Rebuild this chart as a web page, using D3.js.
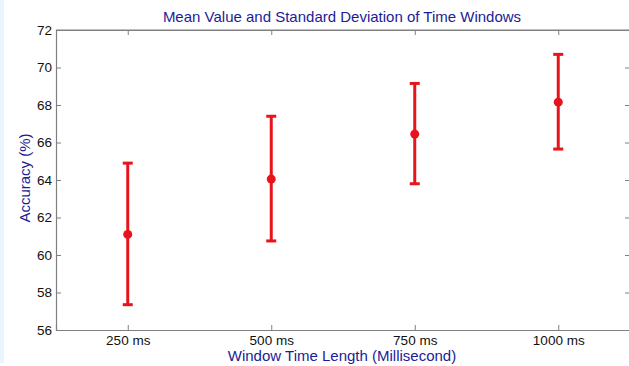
<!DOCTYPE html>
<html>
<head>
<meta charset="utf-8">
<script src="https://cdn.jsdelivr.net/npm/d3@7"></script>
<style>
  html, body { margin: 0; padding: 0; background: #ffffff; }
  svg { display: block; }
</style>
</head>
<body>
<svg id="chart" width="629" height="366"></svg>
<script>
const categories = ["250 ms", "500 ms", "750 ms", "1000 ms"];
const meanValues = [61.1, 64.05, 66.45, 68.15];
const upperValues = [64.9, 67.4, 69.15, 70.7];
const lowerValues = [57.35, 60.75, 63.8, 65.65];
const yTicks = [56, 58, 60, 62, 64, 66, 68, 70, 72];

(function () {
const plotLeft = 56, plotRight = 630, plotTop = 30, plotBottom = 330;
const svg = d3.select("#chart");

// light blue strip at the left edge
svg.append("rect").attr("x", 0).attr("y", 0).attr("width", 4).attr("height", 363).attr("fill", "#eaf6fd");

const x = d3.scaleLinear().domain([0.5, categories.length + 0.5]).range([plotLeft, plotRight]);
const y = d3.scaleLinear().domain([56, 72]).range([plotBottom, plotTop]);

const axisColor = "#808080";
const font = "'Liberation Sans', Arial, sans-serif";

// box lines
const g = svg.append("g");
g.append("line").attr("x1", plotLeft).attr("x2", plotRight).attr("y1", y(72)).attr("y2", y(72)).attr("stroke", axisColor).attr("stroke-width", 1.2);
g.append("line").attr("x1", plotRight).attr("x2", plotRight).attr("y1", plotTop).attr("y2", plotBottom).attr("stroke", axisColor).attr("stroke-width", 1.2);

// left axis
const yAxis = d3.axisLeft(y).tickValues(yTicks).tickSize(-5).tickPadding(4).tickFormat(d3.format("d"));
const ya = svg.append("g").attr("transform", `translate(${plotLeft},0)`).call(yAxis);
ya.select(".domain").attr("stroke", axisColor).attr("stroke-width", 1.2);
ya.selectAll(".tick line").attr("stroke", axisColor);
ya.selectAll("text").attr("font-family", font).attr("font-size", 13.5).attr("fill", "#111");

// right axis ticks
const yr = svg.append("g").attr("transform", `translate(${plotRight},0)`).call(d3.axisRight(y).tickValues(yTicks).tickSize(-5).tickFormat(""));
yr.select(".domain").attr("stroke", axisColor);
yr.selectAll(".tick line").attr("stroke", axisColor);

// bottom axis
const idx = categories.map((c, i) => i + 1);
const xAxis = d3.axisBottom(x).tickValues(idx).tickSize(-5).tickPadding(5).tickFormat(d => categories[d - 1]);
const xa = svg.append("g").attr("transform", `translate(0,${plotBottom})`).call(xAxis);
xa.select(".domain").attr("stroke", axisColor).attr("stroke-width", 1.2);
xa.selectAll(".tick line").attr("stroke", axisColor);
xa.selectAll("text").attr("font-family", font).attr("font-size", 13.5).attr("fill", "#111");

// top axis ticks
const xt = svg.append("g").attr("transform", `translate(0,${plotTop})`).call(d3.axisTop(x).tickValues(idx).tickSize(-5).tickFormat(""));
xt.select(".domain").attr("stroke", axisColor);
xt.selectAll(".tick line").attr("stroke", axisColor);

// error bars
const red = "#e8141c";
const bars = svg.append("g");
categories.forEach((c, i) => {
  const cx = x(i + 1);
  bars.append("line").attr("x1", cx).attr("x2", cx).attr("y1", y(upperValues[i])).attr("y2", y(lowerValues[i]))
    .attr("stroke", red).attr("stroke-width", 3);
  [upperValues[i], lowerValues[i]].forEach(v => {
    bars.append("line").attr("x1", cx - 5).attr("x2", cx + 5).attr("y1", y(v)).attr("y2", y(v))
      .attr("stroke", red).attr("stroke-width", 3);
  });
  bars.append("circle").attr("cx", cx).attr("cy", y(meanValues[i])).attr("r", 4.5).attr("fill", red);
});

// texts
const blue = "#1c1c96";
svg.append("text").attr("x", 342).attr("y", 22).attr("text-anchor", "middle")
  .attr("font-family", font).attr("font-size", 15).attr("fill", blue)
  .text("Mean Value and Standard Deviation of Time Windows");
svg.append("text").attr("x", 342).attr("y", 361).attr("text-anchor", "middle")
  .attr("font-family", font).attr("font-size", 15).attr("fill", blue)
  .text("Window Time Length (Millisecond)");
svg.append("text").attr("transform", "translate(30,178) rotate(-90)").attr("text-anchor", "middle")
  .attr("font-family", font).attr("font-size", 15).attr("fill", blue)
  .text("Accuracy (%)");
})();
</script>
</body>
</html>
